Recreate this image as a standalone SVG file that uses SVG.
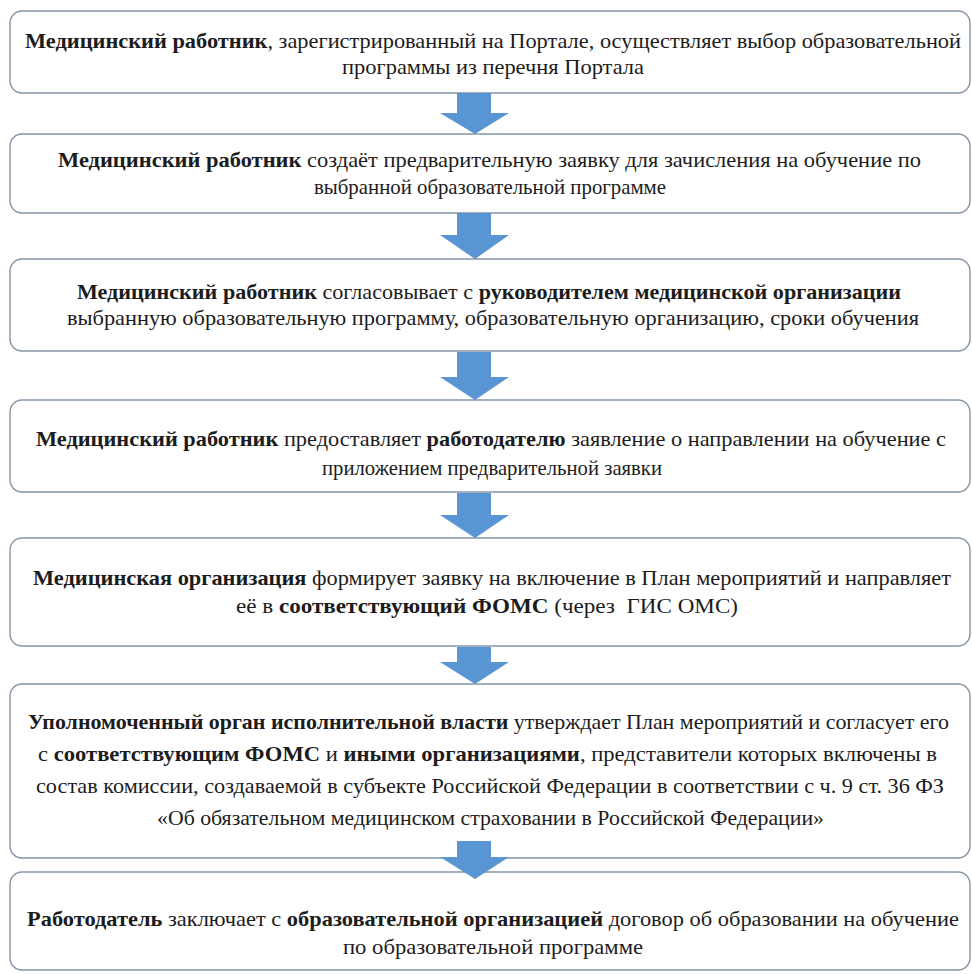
<svg xmlns="http://www.w3.org/2000/svg" width="972" height="974" viewBox="0 0 972 974">
<defs>
<style>
.box{fill:#ffffff;stroke:#8595a6;stroke-width:1.4}
.t{font-family:"Liberation Serif","Times New Roman",serif;font-size:22px;fill:#1c1c1c}
.b{font-weight:bold}
.arr{fill:#5a95d3}
</style>
</defs>
<rect width="972" height="974" fill="#ffffff"/>
<g id="node1">
<rect class="box" x="10" y="11" width="960" height="82" rx="12"/>
<text class="t" x="25" y="48" textLength="936" lengthAdjust="spacingAndGlyphs"><tspan class="b">Медицинский работник</tspan>, зарегистрированный на Портале, осуществляет выбор образовательной</text>
<text class="t" x="342" y="74" textLength="302" lengthAdjust="spacingAndGlyphs">программы из перечня Портала</text>
</g>
<g id="node2">
<rect class="box" x="10" y="134" width="960" height="79" rx="12"/>
<text class="t" x="58" y="167" textLength="863" lengthAdjust="spacingAndGlyphs"><tspan class="b">Медицинский работник</tspan> создаёт предварительную заявку для зачисления на обучение по</text>
<text class="t" x="314" y="194" textLength="352" lengthAdjust="spacingAndGlyphs">выбранной образовательной программе</text>
</g>
<g id="node3">
<rect class="box" x="10" y="259" width="960" height="92" rx="12"/>
<text class="t" x="77" y="299" textLength="824" lengthAdjust="spacingAndGlyphs"><tspan class="b">Медицинский работник</tspan> согласовывает с <tspan class="b">руководителем медицинской организации</tspan></text>
<text class="t" x="67" y="325" textLength="852" lengthAdjust="spacingAndGlyphs">выбранную образовательную программу, образовательную организацию, сроки обучения</text>
</g>
<g id="node4">
<rect class="box" x="10" y="400" width="960" height="92" rx="12"/>
<text class="t" x="36" y="446" textLength="910" lengthAdjust="spacingAndGlyphs"><tspan class="b">Медицинский работник</tspan> предоставляет <tspan class="b">работодателю</tspan> заявление о направлении на обучение с</text>
<text class="t" x="322" y="475" textLength="340" lengthAdjust="spacingAndGlyphs">приложением предварительной заявки</text>
</g>
<g id="node5">
<rect class="box" x="10" y="538" width="960" height="108" rx="12"/>
<text class="t" x="33" y="585" textLength="918" lengthAdjust="spacingAndGlyphs"><tspan class="b">Медицинская организация</tspan> формирует заявку на включение в План мероприятий и направляет</text>
<text class="t" x="236" y="613" textLength="502" lengthAdjust="spacingAndGlyphs" xml:space="preserve">её в <tspan class="b">соответствующий ФОМС</tspan> (через  ГИС ОМС)</text>
</g>
<g id="node6">
<rect class="box" x="10" y="684" width="960" height="174" rx="12"/>
<text class="t" x="28" y="729" textLength="921" lengthAdjust="spacingAndGlyphs"><tspan class="b">Уполномоченный орган исполнительной власти</tspan> утверждает План мероприятий и согласует его</text>
<text class="t" x="38" y="761" textLength="899" lengthAdjust="spacingAndGlyphs">с <tspan class="b">соответствующим ФОМС</tspan> и <tspan class="b">иными организациями</tspan>, представители которых включены в</text>
<text class="t" x="36" y="793" textLength="908" lengthAdjust="spacingAndGlyphs">состав комиссии, создаваемой в субъекте Российской Федерации в соответствии с ч. 9 ст. 36 ФЗ</text>
<text class="t" x="157" y="825" textLength="667" lengthAdjust="spacingAndGlyphs">«Об обязательном медицинском страховании в Российской Федерации»</text>
</g>
<g id="node7">
<rect class="box" x="10" y="872" width="960" height="98" rx="12"/>
<text class="t" x="27" y="926" textLength="932" lengthAdjust="spacingAndGlyphs"><tspan class="b">Работодатель</tspan> заключает с <tspan class="b">образовательной организацией</tspan> договор об образовании на обучение</text>
<text class="t" x="343" y="954" textLength="300" lengthAdjust="spacingAndGlyphs">по образовательной программе</text>
</g>
<g id="connectors">
<polygon class="arr" points="457,93 491,93 491,113 509,113 475,134 440,113 457,113"/>
<polygon class="arr" points="457,213 491,213 491,235 509,235 475,259 440,235 457,235"/>
<polygon class="arr" points="457,352 491,352 491,377 509,377 475,400 440,377 457,377"/>
<polygon class="arr" points="457,493 491,493 491,515 509,515 475,538 440,515 457,515"/>
<polygon class="arr" points="457,647 491,647 491,662 509,662 475,684 440,662 457,662"/>
<polygon class="arr" points="457,841 491,841 491,857 509,857 475,879 440,857 457,857"/>
</g>
</svg>
